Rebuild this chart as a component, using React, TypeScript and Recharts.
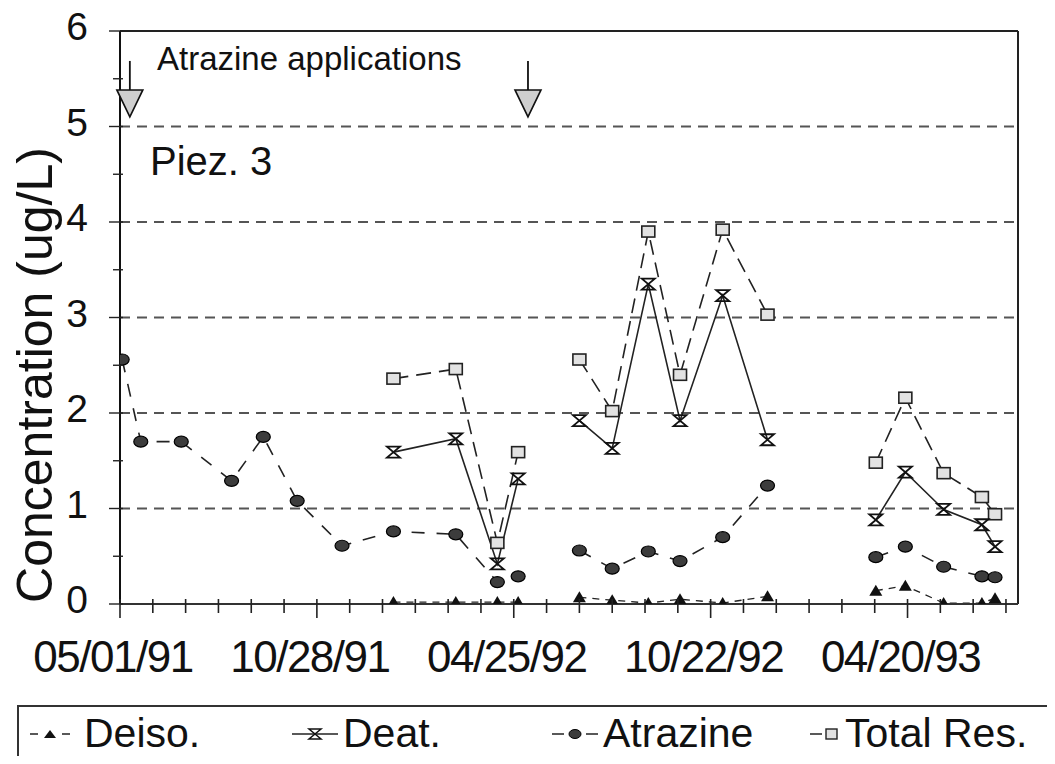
import { CartesianGrid, Line, LineChart, ReferenceDot, ReferenceLine, XAxis, YAxis } from 'recharts';

const FONT = '"Liberation Sans", Arial, sans-serif';

// sampling dates (05/01/91 = day 0)
const sampleDates = [
  '1991-05-03', '1991-05-20', '1991-06-26', '1991-08-11', '1991-09-09', '1991-10-10', '1991-11-20',
  '1992-01-06', '1992-03-03', '1992-04-10', '1992-04-29',
  '1992-06-24', '1992-07-24', '1992-08-26', '1992-09-24', '1992-11-02', '1992-12-13',
  '1993-03-22', '1993-04-18', '1993-05-23', '1993-06-27', '1993-07-09',
];
// lines are broken between sampling campaigns
const campaign = [1, 1, 1, 1, 1, 1, 1, 1, 1, 1, 1, 2, 2, 2, 2, 2, 2, 3, 3, 3, 3, 3];

const deiso = [null, null, null, null, null, null, null, 0.02, 0.02, 0.02, 0.02, 0.07, 0.04, 0.01, 0.05, 0.01, 0.08, 0.14, 0.19, 0.01, 0.01, 0.06];
const deat = [null, null, null, null, null, null, null, 1.59, 1.73, 0.42, 1.31, 1.92, 1.63, 3.35, 1.92, 3.23, 1.72, 0.88, 1.38, 0.99, 0.83, 0.6];
const atrazine = [2.56, 1.7, 1.7, 1.29, 1.75, 1.08, 0.61, 0.76, 0.73, 0.23, 0.29, 0.56, 0.37, 0.55, 0.45, 0.7, 1.24, 0.49, 0.6, 0.39, 0.29, 0.28];
const totalRes = [null, null, null, null, null, null, null, 2.36, 2.46, 0.64, 1.59, 2.56, 2.02, 3.9, 2.4, 3.92, 3.03, 1.48, 2.16, 1.37, 1.12, 0.94];

const xLabels = ['05/01/91', '10/28/91', '04/25/92', '10/22/92', '04/20/93'];
const applicationDates = ['1991-05-10', '1992-05-08'];
const yLabels = [0, 1, 2, 3, 4, 5, 6];

const START = Date.UTC(1991, 4, 1);
const dayOf = (iso: string) => Math.round((Date.parse(iso + 'T00:00:00Z') - START) / 86400000);
const labelDay = (s: string) => {
  const [m, d, y] = s.split('/').map(Number);
  return Math.round((Date.UTC(1900 + y, m - 1, d) - START) / 86400000);
};

const X_MAX = 821;
const majorDays = xLabels.map(labelDay);
const xTicks: number[] = [];
for (let d = 0; d <= 810; d += 30) xTicks.push(d);
const yTicks: number[] = [];
for (let v = 0; v <= 6; v += 0.5) yTicks.push(v);

const rows = sampleDates.map((d, i) => ({
  day: dayOf(d),
  campaign: campaign[i],
  deiso: deiso[i],
  deat: deat[i],
  atrazine: atrazine[i],
  total: totalRes[i],
}));

type Key = 'deiso' | 'deat' | 'atrazine' | 'total';
const segment = (key: Key, c: number) => rows.filter((r) => r.campaign === c && r[key] != null);

const triangleDot = (p: any) => {
  const { cx, cy, index } = p;
  if (cx == null || cy == null) return <g key={index} />;
  return <path key={index} d={`M${cx - 6.5},${cy + 5} L${cx + 6.5},${cy + 5} L${cx},${cy - 6} Z`} fill="#111" />;
};
const hourglassDot = (p: any) => {
  const { cx, cy, index } = p;
  if (cx == null || cy == null) return <g key={index} />;
  return (
    <path
      key={index}
      d={`M${cx - 6.5},${cy - 5.5} H${cx + 6.5} L${cx - 6.5},${cy + 5.5} H${cx + 6.5} Z`}
      fill="none"
      stroke="#111"
      strokeWidth={1.8}
    />
  );
};
const circleDot = (p: any) => {
  const { cx, cy, index } = p;
  if (cx == null || cy == null) return <g key={index} />;
  return <ellipse key={index} cx={cx} cy={cy} rx={7} ry={5.5} fill="#3c3c3c" stroke="#000" strokeWidth={1.2} />;
};
const squareDot = (p: any) => {
  const { cx, cy, index } = p;
  if (cx == null || cy == null) return <g key={index} />;
  return <rect key={index} x={cx - 6.5} y={cy - 5.5} width={13} height={11} fill="#e2e2e2" stroke="#222" strokeWidth={1.6} />;
};

const series: { key: Key; dash?: string; width: number; dot: any }[] = [
  { key: 'total', dash: '15 8', width: 1.6, dot: squareDot },
  { key: 'deat', width: 1.6, dot: hourglassDot },
  { key: 'atrazine', dash: '13 12', width: 1.6, dot: circleDot },
  { key: 'deiso', dash: '7 6', width: 1.3, dot: triangleDot },
];

const XTick = (props: any) => {
  const { x, y, payload } = props;
  const idx = majorDays.indexOf(payload.value);
  const major = idx >= 0;
  return (
    <g>
      <line x1={x} x2={x} y1={y - 7} y2={y + (major ? 12 : 7)} stroke="#222" strokeWidth={1.6} />
      {major && (
        <text x={x - 7} y={y + 66} textAnchor="middle" fontSize={44} letterSpacing={-1.5} fill="#111" fontFamily={FONT}>
          {xLabels[idx]}
        </text>
      )}
    </g>
  );
};

const YTick = (props: any) => {
  const { x, y, payload } = props;
  const whole = yLabels.includes(payload.value);
  return (
    <g>
      <line x1={x - (whole ? 9 : 5)} x2={x + 5} y1={y} y2={y} stroke="#222" strokeWidth={1.4} />
      {whole && (
        <text x={x - 30} y={y + 9} textAnchor="end" fontSize={39} fill="#111" fontFamily={FONT}>
          {payload.value}
        </text>
      )}
    </g>
  );
};

const appArrow = (p: any) => {
  const { cx, cy } = p;
  return (
    <g>
      <line x1={cx} x2={cx} y1={cy - 56} y2={cy - 27} stroke="#111" strokeWidth={1.8} />
      <path d={`M${cx - 13},${cy - 27} L${cx + 13},${cy - 27} L${cx},${cy} Z`} fill="#cfcfcf" stroke="#111" strokeWidth={1.6} />
    </g>
  );
};

const LegendIcon = ({ kind }: { kind: Key }) => {
  if (kind === 'deiso')
    return (
      <svg width={42} height={20}>
        <line x1={1} x2={9} y1={10} y2={10} stroke="#222" strokeWidth={1.5} />
        <line x1={33} x2={41} y1={10} y2={10} stroke="#222" strokeWidth={1.5} />
        <path d="M15,14 L27,14 L21,6 Z" fill="#111" />
      </svg>
    );
  if (kind === 'deat')
    return (
      <svg width={48} height={20}>
        <line x1={1} x2={47} y1={10} y2={10} stroke="#222" strokeWidth={1.5} />
        <path d="M18,5 H30 L18,15 H30 Z" fill="none" stroke="#111" strokeWidth={1.5} />
      </svg>
    );
  if (kind === 'atrazine')
    return (
      <svg width={48} height={20}>
        <line x1={1} x2={13} y1={10} y2={10} stroke="#222" strokeWidth={1.5} />
        <line x1={35} x2={47} y1={10} y2={10} stroke="#222" strokeWidth={1.5} />
        <ellipse cx={24} cy={10} rx={6} ry={4.5} fill="#3c3c3c" stroke="#000" />
      </svg>
    );
  return (
    <svg width={32} height={20}>
      <line x1={1} x2={13} y1={10} y2={10} stroke="#222" strokeWidth={1.5} />
      <rect x={17} y={5} width={11} height={10} fill="#e2e2e2" stroke="#222" strokeWidth={1.4} />
    </svg>
  );
};

const legendItems: { kind: Key; label: string; icon: number; text: number }[] = [
  { kind: 'deiso', label: 'Deiso.', icon: 10, text: 65 },
  { kind: 'deat', label: 'Deat.', icon: 272, text: 324 },
  { kind: 'atrazine', label: 'Atrazine', icon: 532, text: 584 },
  { kind: 'total', label: 'Total Res.', icon: 790, text: 826 },
];

export default function App() {
  return (
    <div style={{ width: 1039, height: 756, marginTop: -8, overflow: 'hidden', fontFamily: FONT, color: '#111' }}>
      <div style={{ position: 'relative', width: 1040, height: 698 }}>
        <LineChart width={1040} height={698} margin={{ top: 31, right: 30, bottom: 0, left: 0 }}>
          <CartesianGrid
            horizontal
            vertical={false}
            horizontalValues={[1, 2, 3, 4, 5]}
            stroke="#555"
            strokeWidth={2}
            strokeDasharray="10 7"
          />
          <XAxis
            type="number"
            dataKey="day"
            domain={[0, X_MAX]}
            ticks={xTicks}
            interval={0}
            height={94}
            tickSize={0}
            tick={XTick}
            axisLine={{ stroke: '#333', strokeWidth: 2 }}
            allowDataOverflow
          />
          <YAxis
            type="number"
            domain={[0, 6]}
            ticks={yTicks}
            interval={0}
            width={112}
            tickSize={0}
            tick={YTick}
            axisLine={{ stroke: '#111', strokeWidth: 2 }}
            allowDataOverflow
          />
          <ReferenceLine y={6} stroke="#222" strokeWidth={2} />
          <ReferenceLine x={X_MAX} stroke="#222" strokeWidth={2} />
          {series.flatMap((s) =>
            [1, 2, 3].map((c) => {
              const data = segment(s.key, c);
              if (!data.length) return null;
              return (
                <Line
                  key={`${s.key}-${c}`}
                  data={data}
                  dataKey={s.key}
                  type="linear"
                  stroke="#222"
                  strokeWidth={s.width}
                  strokeDasharray={s.dash}
                  dot={s.dot}
                  activeDot={false}
                  isAnimationActive={false}
                />
              );
            })
          )}
          {applicationDates.map((d) => (
            <ReferenceDot key={d} x={dayOf(d)} y={5.1} r={0} shape={appArrow} />
          ))}
        </LineChart>
        <div style={{ position: 'absolute', left: 149, top: 42, fontSize: 33, lineHeight: '33px', whiteSpace: 'nowrap' }}>
          Atrazine applications
        </div>
        <div style={{ position: 'absolute', left: 142, top: 141, fontSize: 40, lineHeight: '40px', whiteSpace: 'nowrap' }}>
          Piez. 3
        </div>
        <div
          style={{
            position: 'absolute',
            left: 27 - 250,
            top: 375 - 25,
            width: 500,
            height: 50,
            lineHeight: '50px',
            fontSize: 50,
            textAlign: 'center',
            transform: 'rotate(-90deg)',
            whiteSpace: 'nowrap',
          }}
        >
          Concentration (ug/L)
        </div>
      </div>
      <div
        style={{
          position: 'relative',
          marginTop: 7,
          marginLeft: 9,
          width: 1100,
          height: 80,
          border: '2px solid #333',
          boxSizing: 'border-box',
        }}
      >
        {legendItems.map((it) => (
          <div key={it.kind}>
            <div style={{ position: 'absolute', left: it.icon, top: 17 }}>
              <LegendIcon kind={it.kind} />
            </div>
            <div
              style={{
                position: 'absolute',
                left: it.text,
                top: 6,
                fontSize: 41,
                lineHeight: '41px',
                whiteSpace: 'nowrap',
              }}
            >
              {it.label}
            </div>
          </div>
        ))}
      </div>
    </div>
  );
}
